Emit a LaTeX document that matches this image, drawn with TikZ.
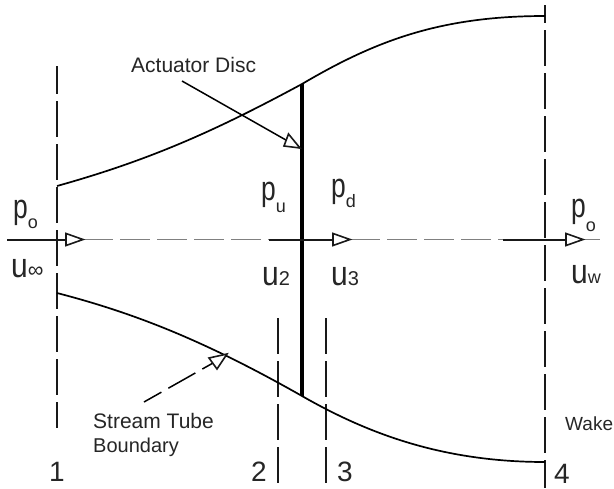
\documentclass[tikz,border=0pt]{standalone}
\usepackage{fontspec}
\setmainfont{Liberation Sans}
\usetikzlibrary{calc}
\newcommand{\tallglyph}[1]{\scalebox{1}[1.14]{\fontsize{30}{30}\selectfont #1}}
\newcommand{\tallp}{\scalebox{0.88}[1.14]{\fontsize{30}{30}\selectfont p}}
\newcommand{\subglyph}[2]{\raisebox{#1}{\fontsize{18}{18}\selectfont #2}}
\begin{document}
\begin{tikzpicture}[x=1pt,y=-1pt,
  lab/.style={inner sep=0pt,anchor=base west,text=black!85},
  note/.style={lab,font=\fontsize{21}{24}\selectfont},
  num/.style={lab,font=\fontsize{28}{30}\selectfont},
  tube/.style={line width=1.7pt,black},
  station/.style={line width=1.6pt,black!90,dash pattern=on 35.5pt off 7.5pt},
  thickstation/.style={station,line width=2pt},
  axis/.style={line width=1pt,black!50,dash pattern=on 30pt off 7pt},
  shaft/.style={line width=2pt,black!90},
  head/.style={line width=1.6pt,black!90,fill=white,line join=miter}]
\useasboundingbox (0,0) rectangle (614,488);
\fill[white] (0,0) rectangle (614,488);
% tips and tails of the flow arrows
\coordinate (a0) at (7,239.5);  \coordinate (a1) at (83,239.5);
\coordinate (b0) at (269,239.5);\coordinate (b1) at (350,239.5);
\coordinate (c0) at (503,239.5);\coordinate (c1) at (583,239.5);
\coordinate (end) at (600,239.5);
\draw[axis] (a1) -- (b0);
\draw[axis] (b1) -- (c0);
\draw[axis] (c1) -- (end);
% stations
\coordinate (s1t) at (57,58);\coordinate (s1b) at (57,428);
\begin{scope}
\clip (50,66) rectangle (64,428);
\draw[thickstation] (s1t) -- (s1b);
\end{scope}
\coordinate (s2t) at (278,318);\coordinate (s2b) at (278,488);
\draw[station] (s2t) -- (s2b);
\coordinate (s3t) at (326,318);\coordinate (s3b) at (326,488);
\draw[station] (s3t) -- (s3b);
\coordinate (s4t) at (545,-13);\coordinate (s4b) at (545,488);
\begin{scope}
\clip (538,5) rectangle (552,488);
\draw[thickstation] (s4t) -- (s4b);
\end{scope}
% boundaries
\coordinate (u0) at (57,186);\coordinate (d0) at (57,293);
\coordinate (u4) at (545,16);\coordinate (d4) at (545,462);
\coordinate (dt) at (302,84);\coordinate (db) at (302,396);
\draw[tube] (u0) .. controls (150,160) and (215,131) .. (dt)
  .. controls (375,41) and (440,16) .. (u4);
\draw[tube] (d0) .. controls (130,312) and (200,338) .. (db)
  .. controls (365,432) and (440,462) .. (d4);
% disc
\draw[line width=4.5pt,black] (dt) -- (db);
% flow arrows
\draw[shaft] (a0) -- ($(a1)+(-8,0)$);
\draw[shaft] (b0) -- ($(b1)+(-8,0)$);
\draw[shaft] (c0) -- ($(c1)+(-8,0)$);
\foreach \n in {a1,b1,c1}{
  \draw[head] (\n) -- ++(-17,-6) -- ++(0,12) -- cycle;
}
% leaders
\coordinate (adS) at (182,81);\coordinate (adE) at (300,148);
\draw[line width=1.5pt,black] (adS) -- (adE);
\draw[head] (adE) -- (284,146) -- (288.5,134) -- cycle;
\coordinate (stS) at (144,402);\coordinate (stE) at (213,363);
\draw[line width=1.5pt,black,dash pattern=on 31pt off 8pt,dash phase=11pt] (stS) -- (stE);
\draw[head] (227,354) -- (209,358) -- (217,369) -- cycle;
% labels
\node[note] (lad) at (131,72) {Actuator Disc};
\node[note] (lst) at (93,428) {Stream Tube};
\node[note,font=\fontsize{20}{24}\selectfont] (lbo) at (93,452) {Boundary};
\node[lab,font=\fontsize{19}{24}\selectfont] (lwk) at (565,430) {Wake};
\node[lab] (p1) at (13,218) {\tallp\subglyph{-10pt}{o}};
\node[lab] (v1) at (11,277) {\tallglyph{u}\subglyph{0pt}{\fontsize{22}{22}\selectfont ∞}};
\node[lab] (pu) at (261,200) {\tallp\subglyph{-12pt}{u}};
\node[lab] (pd) at (331,197) {\tallp\subglyph{-10pt}{d}};
\node[lab] (v2) at (262,285) {\tallglyph{u}\subglyph{0pt}{\fontsize{20}{20}\selectfont 2}};
\node[lab] (v3) at (331,285) {\tallglyph{u}\subglyph{0pt}{\fontsize{20}{20}\selectfont 3}};
\node[lab] (p4) at (571,217) {\tallp\subglyph{-14pt}{o}};
\node[lab] (v4) at (571,283) {\tallglyph{u}\subglyph{0pt}{w}};
\node[num] (n1) at (49,481) {1};
\node[num] (n2) at (251,481) {2};
\node[num] (n3) at (337,481) {3};
\node[num] (n4) at (554,483) {4};
\end{tikzpicture}
\end{document}
